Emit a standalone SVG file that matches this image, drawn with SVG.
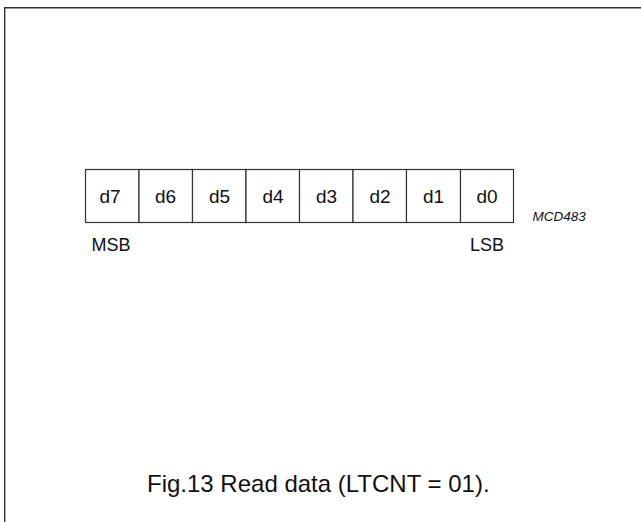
<svg xmlns="http://www.w3.org/2000/svg" width="641" height="522" viewBox="0 0 641 522">
<style>
.frame{fill:none;stroke:#333;stroke-width:1.4}
.cell{fill:#fff;stroke:#333;stroke-width:1.2}
.t{font-family:"Liberation Sans",Arial,sans-serif;fill:#111}
.d{font-size:19px;text-anchor:middle}
.lbl{font-size:18px}
.code{font-size:13.5px;font-style:italic}
.cap{font-size:24px}
</style>
<polyline class="frame" points="4.7,522 4.7,7.7 641,7.7"/>
<g id="register">
<g id="d7"><rect class="cell" x="85.5" y="169.5" width="53.5" height="53"/><text class="t d" x="110" y="202.5">d7</text></g>
<g id="d6"><rect class="cell" x="139" y="169.5" width="53.5" height="53"/><text class="t d" x="165.5" y="202.5">d6</text></g>
<g id="d5"><rect class="cell" x="192.5" y="169.5" width="53.5" height="53"/><text class="t d" x="219.5" y="202.5">d5</text></g>
<g id="d4"><rect class="cell" x="246" y="169.5" width="53.5" height="53"/><text class="t d" x="273" y="202.5">d4</text></g>
<g id="d3"><rect class="cell" x="299.5" y="169.5" width="53.5" height="53"/><text class="t d" x="326.5" y="202.5">d3</text></g>
<g id="d2"><rect class="cell" x="353" y="169.5" width="53.5" height="53"/><text class="t d" x="380" y="202.5">d2</text></g>
<g id="d1"><rect class="cell" x="406.5" y="169.5" width="54" height="53"/><text class="t d" x="433.5" y="202.5">d1</text></g>
<g id="d0"><rect class="cell" x="460.5" y="169.5" width="53" height="53"/><text class="t d" x="487" y="202.5">d0</text></g>
</g>
<g id="labels">
<text class="t lbl" x="91.5" y="251">MSB</text>
<text class="t lbl" x="470" y="251">LSB</text>
<text class="t code" x="532.5" y="221">MCD483</text>
<text class="t cap" x="147" y="492">Fig.13 Read data (LTCNT = 01).</text>
</g>
</svg>
